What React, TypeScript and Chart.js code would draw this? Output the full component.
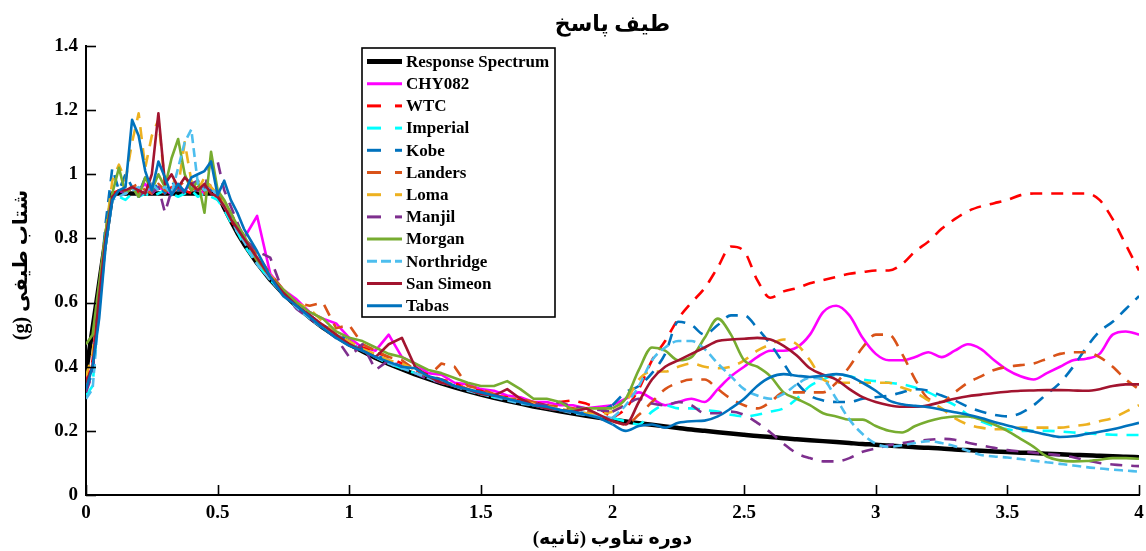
import React, { useEffect, useRef } from "react";
import { Chart, registerables } from "chart.js";

Chart.register(...registerables);

// Period grid (s)
const periods = [
  0, 0.025, 0.05, 0.075, 0.1, 0.125, 0.15, 0.175, 0.2, 0.225, 0.25, 0.275, 0.3, 0.325, 0.35, 0.375, 0.4, 0.425, 0.45, 0.475, 0.5, 0.525, 0.55, 0.575, 0.6,
  0.65, 0.7, 0.75, 0.8, 0.85, 0.9, 0.95, 1, 1.05, 1.1, 1.15, 1.2, 1.25, 1.3, 1.35, 1.4, 1.45, 1.5, 1.55, 1.6, 1.65, 1.7, 1.75, 1.8, 1.85, 1.9, 1.95, 2,
  2.05, 2.1, 2.15, 2.2, 2.25, 2.3, 2.35, 2.4, 2.45, 2.5, 2.55, 2.6, 2.65, 2.7, 2.75, 2.8, 2.85, 2.9, 2.95, 3, 3.05, 3.1, 3.15, 3.2, 3.25, 3.3, 3.35, 3.4, 3.45, 3.5, 3.55, 3.6, 3.65, 3.7, 3.75, 3.8, 3.85, 3.9, 3.95, 4,
];

const responseSpectrum = [
  0.38, 0.52, 0.66, 0.80, 0.94, 0.94, 0.94, 0.94, 0.94, 0.94, 0.94, 0.94, 0.94, 0.94, 0.94, 0.94, 0.94, 0.94, 0.94, 0.94, 0.94, 0.895, 0.855, 0.817, 0.783,
  0.723, 0.671, 0.627, 0.588, 0.553, 0.522, 0.495, 0.47, 0.448, 0.427, 0.409, 0.392, 0.376, 0.362, 0.348, 0.336, 0.324, 0.313, 0.303, 0.294, 0.285, 0.276, 0.269, 0.261, 0.254, 0.247, 0.241, 0.235,
  0.229, 0.224, 0.219, 0.214, 0.209, 0.204, 0.2, 0.196, 0.192, 0.188, 0.184, 0.181, 0.177, 0.174, 0.171, 0.168, 0.165, 0.162, 0.159, 0.157, 0.154, 0.152, 0.149, 0.147, 0.145, 0.142, 0.14, 0.138, 0.136, 0.134, 0.132, 0.131, 0.129, 0.127, 0.125, 0.124, 0.122, 0.121, 0.119, 0.118,
];

const chy082 = [
  0.36, 0.40, 0.62, 0.80, 0.93, 0.95, 0.94, 0.96, 0.95, 0.97, 0.94, 0.96, 0.95, 0.94, 0.96, 0.95, 0.97, 0.95, 0.94, 0.96, 0.93, 0.90, 0.86, 0.83, 0.80,
  0.87, 0.69, 0.64, 0.61, 0.57, 0.55, 0.535, 0.49, 0.46, 0.45, 0.50, 0.43, 0.41, 0.38, 0.375, 0.35, 0.345, 0.33, 0.325, 0.31, 0.305, 0.29, 0.29, 0.28, 0.28, 0.27, 0.275, 0.28,
  0.30, 0.32, 0.30, 0.28, 0.29, 0.30, 0.29, 0.33, 0.37, 0.40, 0.43, 0.45, 0.45, 0.46, 0.50, 0.57, 0.59, 0.56, 0.49, 0.44, 0.42, 0.42, 0.43, 0.445, 0.43, 0.45, 0.47, 0.455, 0.42, 0.39, 0.37, 0.36, 0.38, 0.40, 0.42, 0.425, 0.44, 0.50, 0.51, 0.50,
];

const wtc = [
  0.35, 0.42, 0.63, 0.80, 0.94, 0.95, 0.95, 0.96, 0.94, 0.95, 0.97, 0.95, 0.94, 0.96, 0.95, 0.95, 0.94, 0.96, 0.95, 0.94, 0.92, 0.90, 0.86, 0.82, 0.79,
  0.73, 0.68, 0.63, 0.60, 0.56, 0.53, 0.50, 0.48, 0.46, 0.445, 0.43, 0.41, 0.39, 0.375, 0.36, 0.35, 0.33, 0.325, 0.31, 0.305, 0.295, 0.29, 0.28, 0.29, 0.295, 0.285, 0.27, 0.24,
  0.27, 0.33, 0.42, 0.48, 0.55, 0.60, 0.645, 0.71, 0.775, 0.76, 0.67, 0.615, 0.635, 0.645, 0.66, 0.67, 0.68, 0.69, 0.695, 0.70, 0.70, 0.72, 0.76, 0.79, 0.83, 0.86, 0.885, 0.90, 0.91, 0.92, 0.935, 0.94, 0.94, 0.94, 0.94, 0.94, 0.92, 0.86, 0.78, 0.70,
];

const imperial = [
  0.31, 0.34, 0.60, 0.80, 0.93, 0.93, 0.92, 0.94, 0.93, 0.94, 0.93, 0.94, 0.95, 0.94, 0.93, 0.94, 0.95, 0.93, 0.94, 0.93, 0.92, 0.89, 0.85, 0.82, 0.78,
  0.72, 0.67, 0.63, 0.59, 0.555, 0.525, 0.50, 0.475, 0.45, 0.43, 0.41, 0.395, 0.38, 0.365, 0.35, 0.34, 0.33, 0.315, 0.305, 0.30, 0.29, 0.28, 0.275, 0.265, 0.26, 0.25, 0.245, 0.24,
  0.23, 0.22, 0.26, 0.28, 0.27, 0.27, 0.265, 0.26, 0.25, 0.245, 0.25, 0.26, 0.27, 0.30, 0.34, 0.36, 0.375, 0.37, 0.36, 0.355, 0.35, 0.345, 0.335, 0.32, 0.30, 0.28, 0.25, 0.23, 0.215, 0.205, 0.20, 0.20, 0.20, 0.198, 0.195, 0.193, 0.19, 0.188, 0.187, 0.187,
];

const kobe = [
  0.33, 0.38, 0.62, 0.85, 1.02, 0.95, 1.00, 0.96, 0.94, 0.99, 0.95, 0.97, 0.94, 0.98, 0.95, 0.96, 0.97, 0.94, 0.96, 0.95, 0.93, 0.90, 0.87, 0.83, 0.80,
  0.74, 0.68, 0.63, 0.59, 0.56, 0.53, 0.505, 0.48, 0.455, 0.435, 0.42, 0.40, 0.39, 0.37, 0.355, 0.34, 0.33, 0.32, 0.305, 0.30, 0.29, 0.28, 0.27, 0.265, 0.26, 0.255, 0.26, 0.28,
  0.32, 0.34, 0.38, 0.44, 0.54, 0.53, 0.50, 0.53, 0.56, 0.56, 0.52, 0.47, 0.41, 0.35, 0.31, 0.295, 0.29, 0.29, 0.30, 0.305, 0.31, 0.32, 0.33, 0.325, 0.31, 0.295, 0.275, 0.26, 0.25, 0.245, 0.255, 0.28, 0.315, 0.35, 0.40, 0.46, 0.51, 0.54, 0.58, 0.62,
];

const landers = [
  0.34, 0.40, 0.60, 0.80, 0.93, 0.95, 0.94, 0.96, 0.97, 0.95, 0.94, 0.97, 0.95, 0.94, 0.96, 0.98, 0.95, 0.96, 0.94, 0.97, 0.94, 0.91, 0.88, 0.84, 0.81,
  0.75, 0.69, 0.64, 0.60, 0.59, 0.60, 0.52, 0.53, 0.47, 0.45, 0.43, 0.42, 0.39, 0.37, 0.41, 0.40, 0.34, 0.33, 0.315, 0.30, 0.30, 0.29, 0.28, 0.275, 0.27, 0.265, 0.25, 0.23,
  0.22, 0.25, 0.29, 0.33, 0.35, 0.36, 0.36, 0.33, 0.30, 0.28, 0.27, 0.29, 0.32, 0.32, 0.32, 0.32, 0.35, 0.40, 0.46, 0.50, 0.50, 0.44, 0.36, 0.30, 0.29, 0.32, 0.35, 0.37, 0.39, 0.40, 0.405, 0.41, 0.425, 0.44, 0.445, 0.445, 0.43, 0.40, 0.36, 0.33,
];

const loma = [
  0.37, 0.44, 0.65, 0.82, 0.98, 1.03, 0.98, 1.10, 1.19, 1.02, 1.12, 1.17, 0.97, 0.99, 0.96, 1.10, 0.98, 0.95, 0.99, 0.96, 0.94, 0.91, 0.87, 0.84, 0.80,
  0.74, 0.685, 0.64, 0.60, 0.58, 0.54, 0.50, 0.48, 0.455, 0.44, 0.42, 0.41, 0.39, 0.37, 0.355, 0.345, 0.33, 0.32, 0.31, 0.30, 0.29, 0.285, 0.275, 0.27, 0.26, 0.255, 0.25, 0.26,
  0.29, 0.36, 0.385, 0.385, 0.40, 0.41, 0.40, 0.395, 0.40, 0.42, 0.45, 0.47, 0.485, 0.47, 0.42, 0.36, 0.35, 0.35, 0.35, 0.35, 0.35, 0.335, 0.32, 0.295, 0.27, 0.24, 0.22, 0.21, 0.205, 0.205, 0.21, 0.21, 0.21, 0.21, 0.215, 0.22, 0.23, 0.24, 0.26, 0.28,
];

const manjil = [
  0.32, 0.38, 0.60, 0.80, 0.93, 0.95, 0.94, 0.96, 0.93, 0.95, 0.94, 0.96, 0.88, 0.95, 0.96, 0.94, 0.97, 0.98, 0.95, 1.05, 1.04, 0.95, 0.90, 0.85, 0.80,
  0.76, 0.74, 0.63, 0.58, 0.55, 0.52, 0.49, 0.43, 0.47, 0.39, 0.42, 0.40, 0.38, 0.36, 0.35, 0.34, 0.33, 0.32, 0.31, 0.30, 0.29, 0.285, 0.28, 0.29, 0.275, 0.27, 0.265, 0.26,
  0.28, 0.30, 0.285, 0.28, 0.29, 0.28, 0.255, 0.255, 0.26, 0.25, 0.225, 0.195, 0.16, 0.13, 0.115, 0.105, 0.105, 0.115, 0.135, 0.145, 0.155, 0.162, 0.168, 0.172, 0.175, 0.172, 0.163, 0.155, 0.147, 0.14, 0.136, 0.132, 0.128, 0.124, 0.118, 0.108, 0.10, 0.095, 0.092, 0.09,
];

const morgan = [
  0.47, 0.50, 0.66, 0.82, 0.94, 1.02, 0.94, 0.96, 0.93, 0.99, 0.95, 1.00, 0.96, 1.05, 1.11, 1.00, 0.95, 0.98, 0.88, 1.07, 0.95, 0.92, 0.88, 0.84, 0.81,
  0.73, 0.68, 0.64, 0.60, 0.57, 0.55, 0.51, 0.49, 0.48, 0.46, 0.44, 0.43, 0.41, 0.39, 0.38, 0.365, 0.35, 0.34, 0.34, 0.355, 0.33, 0.30, 0.30, 0.29, 0.265, 0.27, 0.27, 0.27,
  0.30, 0.39, 0.46, 0.45, 0.42, 0.43, 0.49, 0.55, 0.50, 0.42, 0.40, 0.37, 0.32, 0.30, 0.28, 0.255, 0.245, 0.235, 0.235, 0.215, 0.20, 0.195, 0.215, 0.23, 0.24, 0.245, 0.245, 0.235, 0.22, 0.20, 0.175, 0.15, 0.12, 0.108, 0.105, 0.106, 0.11, 0.115, 0.115, 0.113,
];

const northridge = [
  0.30, 0.33, 0.58, 0.78, 0.92, 0.93, 0.94, 0.95, 0.96, 0.94, 0.97, 0.95, 0.96, 0.94, 1.02, 1.10, 1.14, 0.97, 0.95, 0.96, 0.93, 0.90, 0.86, 0.82, 0.79,
  0.72, 0.67, 0.625, 0.585, 0.55, 0.52, 0.495, 0.47, 0.45, 0.43, 0.41, 0.395, 0.38, 0.365, 0.35, 0.34, 0.325, 0.315, 0.305, 0.295, 0.285, 0.28, 0.27, 0.265, 0.255, 0.25, 0.245, 0.24,
  0.28, 0.34, 0.42, 0.46, 0.48, 0.48, 0.455, 0.41, 0.37, 0.33, 0.31, 0.30, 0.315, 0.345, 0.365, 0.36, 0.30, 0.235, 0.19, 0.16, 0.15, 0.155, 0.162, 0.168, 0.162, 0.152, 0.138, 0.125, 0.12, 0.117, 0.112, 0.107, 0.102, 0.097, 0.092, 0.087, 0.083, 0.079, 0.076, 0.073,
];

const sanSimeon = [
  0.35, 0.40, 0.62, 0.80, 0.93, 0.95, 0.95, 0.96, 0.95, 0.94, 1.00, 1.19, 0.97, 1.00, 0.96, 0.99, 0.97, 0.95, 0.97, 0.94, 0.93, 0.90, 0.86, 0.83, 0.80,
  0.74, 0.68, 0.63, 0.59, 0.56, 0.53, 0.50, 0.47, 0.45, 0.43, 0.47, 0.49, 0.40, 0.37, 0.35, 0.34, 0.33, 0.315, 0.31, 0.33, 0.30, 0.28, 0.27, 0.265, 0.26, 0.27, 0.25, 0.23,
  0.22, 0.29, 0.36, 0.40, 0.42, 0.44, 0.46, 0.48, 0.485, 0.487, 0.49, 0.485, 0.465, 0.435, 0.395, 0.375, 0.36, 0.33, 0.305, 0.29, 0.28, 0.275, 0.275, 0.28, 0.29, 0.30, 0.308, 0.313, 0.318, 0.322, 0.325, 0.326, 0.327, 0.327, 0.326, 0.325, 0.33, 0.34, 0.345, 0.345,
];

const tabas = [
  0.33, 0.40, 0.55, 0.78, 0.92, 0.95, 0.96, 1.17, 1.12, 1.01, 0.95, 1.04, 0.99, 0.935, 0.97, 0.945, 0.99, 1.00, 1.01, 1.04, 0.935, 0.98, 0.92, 0.88, 0.83,
  0.76, 0.68, 0.62, 0.59, 0.555, 0.52, 0.49, 0.465, 0.45, 0.43, 0.415, 0.40, 0.395, 0.37, 0.36, 0.34, 0.33, 0.32, 0.31, 0.30, 0.29, 0.28, 0.275, 0.265, 0.26, 0.25, 0.24, 0.22,
  0.20, 0.215, 0.22, 0.21, 0.225, 0.23, 0.232, 0.245, 0.27, 0.30, 0.34, 0.367, 0.377, 0.372, 0.368, 0.372, 0.377, 0.37, 0.35, 0.325, 0.295, 0.283, 0.278, 0.274, 0.266, 0.258, 0.25, 0.24, 0.228, 0.217, 0.206, 0.197, 0.188, 0.181, 0.183, 0.19, 0.197, 0.205, 0.215, 0.225,
];

const seriesNames = [
  "Response Spectrum", "CHY082", "WTC", "Imperial", "Kobe", "Landers",
  "Loma", "Manjil", "Morgan", "Northridge", "San Simeon", "Tabas",
];
const seriesColors = [
  "#000000", "#FF00FF", "#FF0000", "#00FFFF", "#0072BD", "#D95319",
  "#EDB120", "#7E2F8E", "#77AC30", "#4DBEEE", "#A2142F", "#0072BD",
];
const seriesStyles = ["solid", "solid", "dash", "dash", "dash", "dash", "dash", "dash", "solid", "short", "solid", "solid"];

const yTickValues = [0, 0.2, 0.4, 0.6, 0.8, 1, 1.2, 1.4];
const xTickValues = [0, 0.5, 1, 1.5, 2, 2.5, 3, 3.5, 4];

const titleText = "طيف پاسخ";
const xTitleText = "دوره تناوب (ثانیه)";
const yTitleText = "شتاب طیفی (g)";

const SERIF = "'Liberation Serif', 'DejaVu Serif', serif";
const FA = "'Liberation Serif', 'DejaVu Sans', sans-serif";

function plotDash(style: string): number[] {
  if (style === "dash") return [12, 9];
  if (style === "short") return [9, 5];
  return [];
}
function legendDash(style: string): number[] {
  if (style === "dash") return [14, 14];
  if (style === "short") return [10, 4];
  return [];
}
function fmt(v: number): string {
  return String(Number(Number(v).toFixed(2)));
}

export default function App() {
  const ref = useRef<HTMLCanvasElement | null>(null);

  useEffect(() => {
    document.body.style.margin = "0";
    const canvas = ref.current;
    if (!canvas) return;
    const allValues = [responseSpectrum, chy082, wtc, imperial, kobe, landers, loma, manjil, morgan, northridge, sanSimeon, tabas];
    const datasets: any[] = [];
    allValues.forEach((vals, i) => {
      const low: { x: number; y: number }[] = [];
      const high: { x: number; y: number }[] = [];
      periods.forEach((t, k) => {
        if (t <= 2) low.push({ x: t, y: vals[k] });
        if (t >= 2) high.push({ x: t, y: vals[k] });
      });
      const common = {
        label: seriesNames[i],
        borderColor: seriesColors[i],
        backgroundColor: seriesColors[i],
        borderWidth: i === 0 ? 4.5 : 2.6,
        borderDash: plotDash(seriesStyles[i]),
        borderCapStyle: "butt",
        borderJoinStyle: "round",
        pointRadius: 0,
        fill: false,
        order: allValues.length - i,
      };
      datasets.push({ ...common, data: low, tension: 0 });
      datasets.push({ ...common, data: high, tension: 0.4, cubicInterpolationMode: "monotone" });
    });

    const decor = {
      id: "decor",
      afterDraw(chart: any) {
        const ctx = chart.ctx as CanvasRenderingContext2D;
        const ca = chart.chartArea;
        const xs = chart.scales.x;
        const ys = chart.scales.y;
        ctx.save();
        // inward tick marks
        ctx.strokeStyle = "#000";
        ctx.lineWidth = 1.6;
        ctx.setLineDash([]);
        yTickValues.forEach((v) => {
          const y = Math.round(ys.getPixelForValue(v)) + 0.5;
          ctx.beginPath();
          ctx.moveTo(ca.left, y);
          ctx.lineTo(ca.left + 10, y);
          ctx.stroke();
        });
        xTickValues.forEach((v) => {
          const x = Math.round(xs.getPixelForValue(v)) + 0.5;
          ctx.beginPath();
          ctx.moveTo(x, ca.bottom);
          ctx.lineTo(x, ca.bottom - 10);
          ctx.stroke();
        });
        // titles
        ctx.fillStyle = "#000";
        ctx.textAlign = "center";
        ctx.textBaseline = "middle";
        (ctx as any).direction = "rtl";
        ctx.font = `bold 22px ${FA}`;
        ctx.fillText(titleText, (ca.left + ca.right) / 2, 25);
        ctx.font = `bold 19px ${FA}`;
        ctx.fillText(xTitleText, (ca.left + ca.right) / 2, 539);
        ctx.save();
        ctx.translate(22, 265);
        ctx.rotate(-Math.PI / 2);
        ctx.font = `bold 20px ${FA}`;
        ctx.fillText(yTitleText, 0, 0);
        ctx.restore();
        (ctx as any).direction = "ltr";
        // legend
        const lx = ca.left + 276;
        const ly = ca.top + 2;
        const lw = 193;
        const lh = 269;
        ctx.fillStyle = "#fff";
        ctx.fillRect(lx, ly, lw, lh);
        ctx.strokeStyle = "#000";
        ctx.lineWidth = 1.6;
        ctx.strokeRect(lx, ly, lw, lh);
        ctx.textAlign = "left";
        ctx.textBaseline = "middle";
        ctx.font = `bold 17px ${SERIF}`;
        seriesNames.forEach((name, i) => {
          const y = ly + 13.5 + i * 22.2;
          ctx.strokeStyle = seriesColors[i];
          ctx.lineWidth = i === 0 ? 5 : 3;
          ctx.lineCap = "butt";
          ctx.setLineDash(legendDash(seriesStyles[i]));
          ctx.beginPath();
          ctx.moveTo(lx + 5, y);
          ctx.lineTo(lx + 40, y);
          ctx.stroke();
          ctx.setLineDash([]);
          ctx.fillStyle = "#000";
          ctx.fillText(name, lx + 44, y + 1);
        });
        ctx.restore();
      },
    };

    const chart = new Chart(canvas, {
      type: "line",
      data: { datasets },
      options: {
        animation: false,
        responsive: false,
        devicePixelRatio: 1,
        parsing: false as any,
        normalized: true,
        layout: { padding: { top: 46, right: 7, left: 0, bottom: 0 } },
        plugins: {
          legend: { display: false },
          title: { display: false },
          tooltip: { enabled: false },
        },
        scales: {
          x: {
            type: "linear",
            min: 0,
            max: 4,
            grid: { display: false, drawTicks: false },
            border: { display: true, color: "#000", width: 2 },
            ticks: {
              stepSize: 0.5,
              color: "#000",
              padding: 7,
              maxRotation: 0,
              font: { family: SERIF, weight: "bold", size: 19 },
              callback: (v: any) => fmt(v),
            },
            afterFit(scale: any) {
              scale.height = 56;
              scale.paddingLeft = 0;
              scale.paddingRight = 0;
            },
          },
          y: {
            type: "linear",
            min: 0,
            max: 1.4,
            grid: { display: false, drawTicks: false },
            border: { display: true, color: "#000", width: 2 },
            ticks: {
              stepSize: 0.2,
              color: "#000",
              padding: 8,
              font: { family: SERIF, weight: "bold", size: 19 },
              callback: (v: any) => fmt(v),
            },
            afterFit(scale: any) {
              scale.width = 86;
              scale.paddingTop = 0;
              scale.paddingBottom = 0;
            },
          },
        },
      },
      plugins: [decor],
    } as any);

    return () => chart.destroy();
  }, []);

  return (
    <div style={{ width: 1146, height: 551, background: "#fff" }}>
      <canvas ref={ref} width={1146} height={551} style={{ display: "block" }} />
    </div>
  );
}
